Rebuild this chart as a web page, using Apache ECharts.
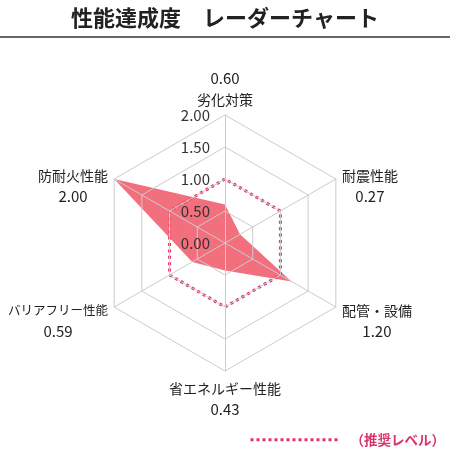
<!DOCTYPE html>
<html>
<head>
<meta charset="utf-8">
<script src="https://cdn.jsdelivr.net/npm/echarts@6/dist/echarts.min.js"></script>
<style>
html,body{margin:0;padding:0;background:#fff;}
#chart{width:450px;height:469px;}
</style>
</head>
<body>
<div id="chart"></div>
<script>
// ---- data ----
const titleText = '性能達成度　レーダーチャート';
const indicatorNames = ['劣化対策', '防耐火性能', 'バリアフリー性能', '省エネルギー性能', '配管・設備', '耐震性能'];
const scores = [0.60, 2.00, 0.59, 0.43, 1.20, 0.27];
const recommended = [1, 1, 1, 1, 1, 1];
const axisMin = 0;
const axisMax = 2;
const recommendedName = '（推奨レベル）';

const FONT = '"Noto Sans CJK JP", "Noto Sans", sans-serif';
const DOT = '#e2326b';

// dotted legend icon path
let iconPath = 'path://';
for (let i = 0; i < 15; i++) { iconPath += 'M' + (i * 6) + ',0h3v3h-3z'; }

const chart = echarts.init(document.getElementById('chart'), null, {renderer: 'canvas'});
chart.setOption({
  backgroundColor: '#fff',
  textStyle: {fontFamily: FONT},
  title: {
    text: titleText,
    left: 'center',
    top: 2,
    textStyle: {fontFamily: FONT, fontSize: 22, fontWeight: 'bold', color: '#222'}
  },
  graphic: [{
    type: 'line',
    shape: {x1: 0, y1: 37, x2: 450, y2: 37},
    style: {stroke: '#333', lineWidth: 1.6}
  }],
  legend: {
    data: [recommendedName],
    right: 0,
    top: 428,
    icon: iconPath,
    itemWidth: 87,
    itemHeight: 3,
    itemStyle: {color: DOT},
    textStyle: {color: '#d9346e', fontSize: 13.5, fontWeight: 'bold', fontFamily: FONT, padding: [0, 0, 0, 8]},
    selectedMode: false
  },
  radar: {
    center: ['50%', 243],
    radius: 128,
    startAngle: 90,
    splitNumber: 4,
    shape: 'polygon',
    z: 3,
    nameGap: 7,
    axisName: {
      color: '#222',
      fontFamily: FONT,
      formatter: function (name, ind) {
        const idx = indicatorNames.indexOf(name);
        const v = scores[idx].toFixed(2);
        const nStyle = idx === 2 ? 'ns' : 'n';
        if (idx === 0) return '{v|' + v + '}\n{' + nStyle + '|' + name + '}';
        if (idx === 3) return '{' + nStyle + '|' + name + '}\n{v|' + v + '}';
        return '{sp| }\n{' + nStyle + '|' + name + '}\n{v|' + v + '}';
      },
      rich: {
        n: {fontSize: 14, lineHeight: 21, align: 'center', color: '#222', fontFamily: FONT},
        ns: {fontSize: 12.5, lineHeight: 21, align: 'center', color: '#222', fontFamily: FONT},
        v: {fontSize: 15, lineHeight: 21, align: 'center', color: '#222', fontFamily: FONT},
        sp: {fontSize: 10, lineHeight: 21}
      }
    },
    indicator: indicatorNames.map(function (n, i) {
      const o = {name: n, min: axisMin, max: axisMax};
      if (i === 0) {
        o.nameGap = 5;
        o.axisLabel = {show: true};
      }
      return o;
    }),
    axisLine: {lineStyle: {color: '#cccccc', width: 1}},
    splitLine: {lineStyle: {color: '#cccccc', width: 1}},
    splitArea: {show: false},
    axisTick: {show: false},
    axisLabel: {
      show: false,
      showMinLabel: true,
      showMaxLabel: true,
      margin: 15,
      fontSize: 15,
      color: '#333',
      fontFamily: FONT,
      formatter: function (v) { return Number(v).toFixed(2); }
    }
  },
  series: [{
    type: 'radar',
    name: recommendedName,
    z: 2,
    symbol: 'none',
    silent: true,
    itemStyle: {color: DOT},
    lineStyle: {color: DOT, width: 3, type: [3, 3.4]},
    data: [{value: recommended, name: recommendedName}]
  }, {
    type: 'radar',
    name: '性能',
    z: 2,
    symbol: 'none',
    silent: true,
    itemStyle: {color: 'rgb(240,81,99)'},
    lineStyle: {width: 0, opacity: 0},
    areaStyle: {color: 'rgba(240,84,100,0.84)', opacity: 1},
    data: [{value: scores, name: '性能'}]
  }]
});
</script>
</body>
</html>
